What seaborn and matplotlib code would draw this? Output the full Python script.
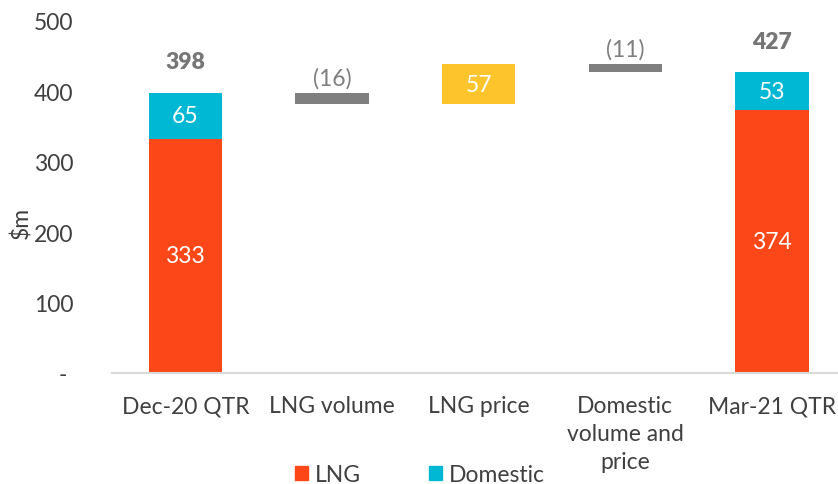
import numpy as np
import pandas as pd
import matplotlib
matplotlib.use("Agg")
import matplotlib.pyplot as plt
import seaborn as sns
from matplotlib.patches import Patch

categories = ["Dec-20 QTR", "LNG volume", "LNG price", "Domestic\nvolume and\nprice", "Mar-21 QTR"]
lng = [333, 0, 0, 0, 374]
domestic = [65, 0, 0, 0, 53]
changes = [0, -16, 57, -11, 0]
change_labels = ["", "(16)", "57", "(11)", ""]
totals = [398, None, None, None, 427]
yticks = [0, 100, 200, 300, 400, 500]
ytick_labels = ["- ", "100", "200", "300", "400", "500"]

C_LNG = "#FC4819"
C_DOM = "#00B8D4"
C_UP = "#FEC42C"
C_DOWN = "#7F7F7F"
TXT = "#404040"

sns.set_theme(style="white")
plt.rcParams["font.family"] = ["Lato", "DejaVu Sans"]

# waterfall positions
running = totals[0]
bottoms = [0.0] * 5
for i in range(1, 4):
    if changes[i] < 0:
        bottoms[i] = running + changes[i]
    else:
        bottoms[i] = running
    running += changes[i]

df = pd.DataFrame({
    "cat": categories,
    "lng": lng,
    "dom": domestic,
    "up": [c if c > 0 else 0 for c in changes],
    "down": [-c if c < 0 else 0 for c in changes],
    "bottom": bottoms,
})

fig = plt.figure(figsize=(8.38, 4.85), dpi=100)
ax = fig.add_axes([112 / 838, 1 - 374 / 485, 1 - 112 / 838, (374 - 22) / 485])

kw = dict(order=categories, width=0.5, linewidth=0, ax=ax, saturation=1)
sns.barplot(data=df, x="cat", y="lng", color=C_LNG, **kw)
sns.barplot(data=df, x="cat", y="dom", color=C_DOM, bottom=df["lng"].values, **kw)
sns.barplot(data=df, x="cat", y="up", color=C_UP, bottom=df["bottom"].values, **kw)
sns.barplot(data=df, x="cat", y="down", color=C_DOWN, bottom=df["bottom"].values, **kw)

fs = 16.5
for i in range(5):
    if lng[i]:
        ax.text(i, lng[i] / 2, str(lng[i]), ha="center", va="center", color="white", fontsize=fs)
    if domestic[i]:
        ax.text(i, lng[i] + domestic[i] / 2, str(domestic[i]), ha="center", va="center", color="white", fontsize=fs)
    if totals[i] is not None:
        ax.annotate(str(totals[i]), (i, lng[i] + domestic[i]), xytext=(0, 15), textcoords="offset points",
                    ha="center", va="bottom", color="#767676", fontsize=fs, fontweight="heavy")
    if changes[i] > 0:
        ax.text(i, bottoms[i] + changes[i] / 2, change_labels[i], ha="center", va="center", color="white", fontsize=fs)
    elif changes[i] < 0:
        ax.annotate(change_labels[i], (i, bottoms[i] - changes[i]), xytext=(0, 3), textcoords="offset points",
                    ha="center", va="bottom", color=C_DOWN, fontsize=fs)

ax.set_xlim(-0.5, 4.45)
ax.set_ylim(0, 500)
ax.set_yticks(yticks)
ax.set_yticklabels(ytick_labels)
ax.tick_params(axis="y", length=0, pad=28, labelsize=fs, labelcolor=TXT)
ax.tick_params(axis="x", length=0, pad=16, labelsize=fs, labelcolor=TXT)
for lab in ax.get_xticklabels():
    lab.set_linespacing(1.4)
ax.set_xlabel("")
ax.set_ylabel("$m", fontsize=fs, color=TXT)
ax.yaxis.set_label_coords(-0.11, 0.43)
for s in ["top", "right", "left"]:
    ax.spines[s].set_visible(False)
ax.spines["bottom"].set_color("#D9D9D9")
ax.spines["bottom"].set_linewidth(1.5)

handles = [Patch(color=C_LNG, label="LNG"), Patch(color=C_DOM, label="Domestic")]
fig.legend(handles=handles, loc="center", bbox_to_anchor=(420 / 838, 9 / 485), ncol=2, frameon=False,
           fontsize=fs, labelcolor=TXT, handlelength=0.55, handleheight=0.55, handletextpad=0.3, columnspacing=3)

fig.savefig("out.png", dpi=100)
